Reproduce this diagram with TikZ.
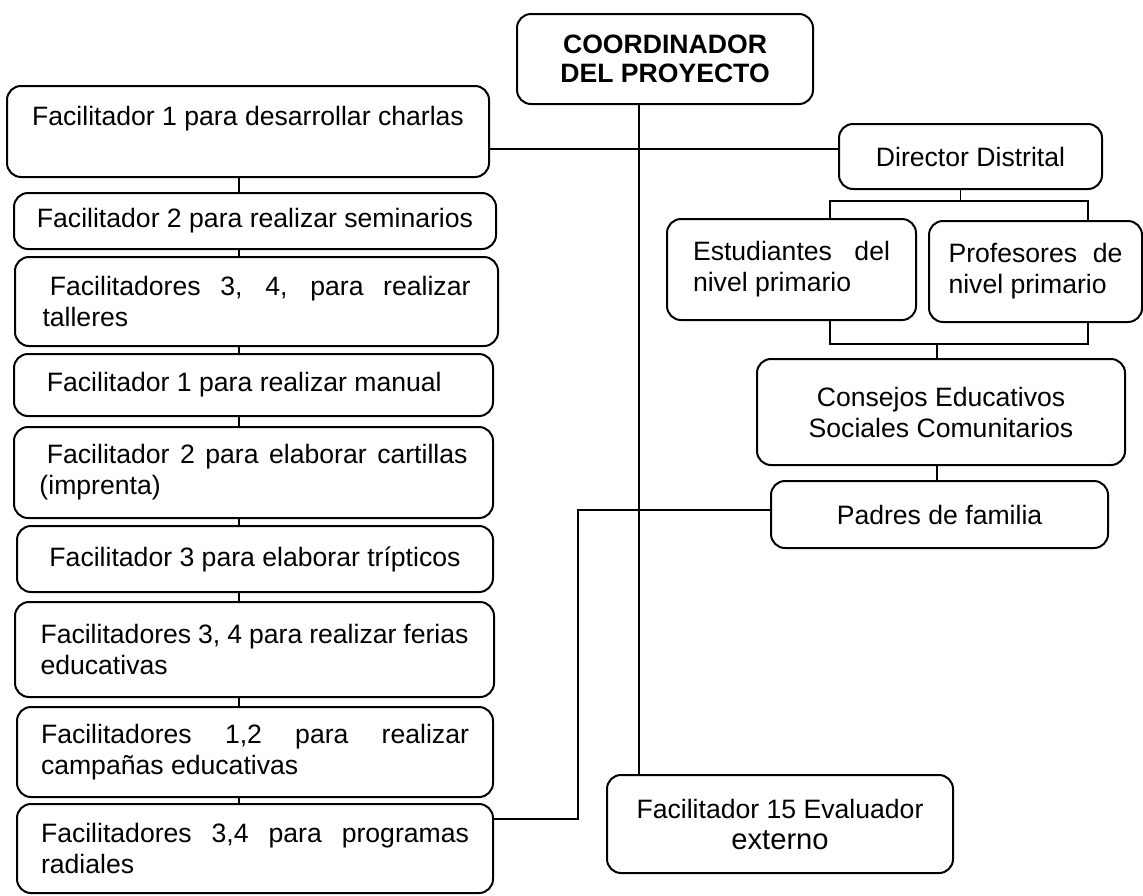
\documentclass[tikz,border=0pt]{standalone}
\usepackage{fontspec}
\setmainfont{Liberation Sans}
\tolerance=10000
\hyphenpenalty=10000
\hbadness=10000

\begin{document}
\begin{tikzpicture}[x=0.5pt, y=-0.5pt,
  caja/.style={draw, line width=1pt, rounded corners=7pt, inner sep=0pt, font=\fontsize{13.3}{15.5}\selectfont},
  centro/.style={caja, align=center},
  justo/.style={caja, align=justify, text width=214pt},
  linea/.style={line width=0.6pt}]
\useasboundingbox (0,0) rectangle (1143,895);

%coordinador
\node[centro, minimum width=148pt, minimum height=45pt, font=\fontsize{13.3}{14.5}\selectfont\bfseries] (coord) at (665,59) {COORDINADOR\\DEL PROYECTO};

%facilitadores
\node[centro, minimum width=241pt, minimum height=45.5pt] (fac1) at (248,131.5) {Facilitador 1 para desarrollar charlas\\ ~};
\node[centro, minimum width=241pt, minimum height=28pt] (fac2) at (255,221) {Facilitador 2 para realizar seminarios};
\node[justo, minimum width=241.5pt, minimum height=44.5pt] (fac3) at (256.5,301.5) {\hspace*{3.7pt}Facilitadores 3, 4, para realizar talleres};
\node[justo, minimum width=239.5pt, minimum height=31pt] (fac4) at (253.5,385) {\hspace*{3.7pt}Facilitador 1 para realizar manual};
\node[justo, minimum width=239.5pt, minimum height=45.5pt] (fac5) at (253.5,472.5) {\hspace*{3.7pt}Facilitador 2 para elaborar cartillas (imprenta)};
\node[centro, minimum width=238pt, minimum height=33pt] (fac6) at (255,559) {Facilitador 3 para elaborar trípticos};
\node[justo, minimum width=239.5pt, minimum height=47.5pt] (fac7) at (254.5,649.5) {Facilitadores 3, 4 para realizar ferias educativas};
\node[justo, minimum width=238pt, minimum height=45pt] (fac8) at (255,752) {Facilitadores 1,2 para realizar campañas educativas};
\node[justo, minimum width=238pt, minimum height=44.5pt] (fac9) at (255,848.5) {Facilitadores 3,4 para programas radiales};

%director, estudiantes, profesores
\node[centro, minimum width=131.5pt, minimum height=32.5pt] (director) at (970.5,156.5) {Director Distrital};
\node[justo, text width=98.5pt, minimum width=124.5pt, minimum height=50.5pt] (estud) at (791.5,269.5) {Estudiantes del nivel primario};
\node[justo, text width=87pt, minimum width=106.5pt, minimum height=50.5pt] (profes) at (1035.5,271.5) {Profesores de nivel primario};

%consejos, padres, evaluador
\node[centro, minimum width=184pt, minimum height=53pt] (consejos) at (941,412) {Consejos Educativos\\Sociales Comunitarios};
\node[centro, minimum width=168.5pt, minimum height=33.5pt] (padres) at (939.5,514.5) {Padres de familia};
\node[centro, minimum width=173pt, minimum height=49pt] (eval) at (780,824) {Facilitador 15 Evaluador\\{\fontsize{14.6}{15.5}\selectfont externo}};

%linea central
\coordinate (eje) at (639,0);
\draw[linea] (eje |- coord.south) -- (eje |- eval.north);
\coordinate (ramal) at (0,149);
\draw[linea] (fac1.east |- ramal) -- (director.west |- ramal);

%cadena de facilitadores
\coordinate (espina) at (239,0);
\foreach \a/\b in {fac1/fac2, fac2/fac3, fac3/fac4, fac4/fac5, fac5/fac6, fac6/fac7, fac7/fac8, fac8/fac9}
  \draw[linea] (espina |- \a.south) -- (espina |- \b.north);

%director a estudiantes y profesores
\coordinate (dirL) at (830,201);
\coordinate (dirR) at (1088,201);
\draw[linea] ([xshift=-5pt]director.south) -- ([xshift=-5pt]director.south |- dirL);
\draw[linea] (dirL |- estud.north) -- (dirL) -- (dirR) -- (dirR |- profes.north);

%union hacia consejos
\coordinate (uniL) at (830,344);
\coordinate (uniR) at (1088,344);
\draw[linea] (uniL |- estud.south) -- (uniL) -- (uniR) -- (uniR |- profes.south);
\draw[linea] ([xshift=-2pt]consejos.north |- uniL) -- ([xshift=-2pt]consejos.north);
\draw[linea] ([xshift=-2pt]consejos.south) -- ([xshift=-2pt]consejos.south |- padres.north);

%padres a facilitadores
\coordinate (codoA) at (578,510);
\coordinate (codoB) at (578,819);
\draw[linea] (padres.west |- codoA) -- (codoA) -- (codoB) -- (fac9.east |- codoB);

\end{tikzpicture}
\end{document}
